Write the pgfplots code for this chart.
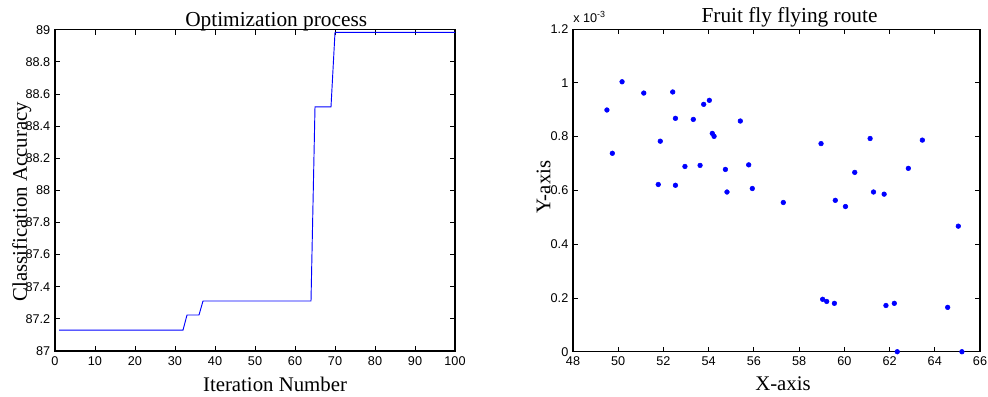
\documentclass[border=0pt]{standalone}
\usepackage{pgfplots}
\pgfplotsset{compat=1.18}
\usepackage{fontspec}
\setmainfont{Liberation Serif}
\newfontfamily\arial{Liberation Sans}
\begin{document}
\begin{tikzpicture}
\useasboundingbox (0pt,0pt) rectangle (741pt,297pt);
\pgfplotsset{
  mystyle/.style={
    scale only axis,
    axis line style={black, line width=0.8pt},
    tick align=inside,
    major tick length=3.75pt,
    tick style={black, line width=0.6pt},
    /pgf/number format/assume math mode=true,
    tick label style={font=\arial\fontsize{9.5}{10}\selectfont},
    label style={font=\fontsize{15.6}{16}\selectfont},
    title style={font=\fontsize{16}{17}\selectfont},
    xticklabel style={yshift=-0.5pt},
  }
}
\begin{axis}[mystyle,
  anchor=origin, at={(41.25pt,33.75pt)},
  width=300pt, height=241pt,
  xmin=0, xmax=100, ymin=87, ymax=89,
  xtick={0,10,...,100},
  ytick={87,87.2,87.4,87.6,87.8,88,88.2,88.4,88.6,88.8,89},
  yticklabels={87,87.2,87.4,87.6,87.8,88,88.2,88.4,88.6,88.8,89},
  title={Optimization process},
  title style={at={(axis description cs:0.553,1)}, anchor=base, yshift=-4pt},
  xlabel={Iteration Number},
  xlabel style={at={(axis description cs:0.55,0)}, anchor=base, yshift=-30.5pt},
  ylabel={Classification Accuracy},
  ylabel style={at={(axis description cs:-0.07,0.465)}, anchor=base},
]
\addplot[blue, line width=0.7pt] coordinates {
(1,87.13) (32,87.13) (33,87.224) (36,87.224) (37,87.311) (64,87.311)
(65,88.52) (69,88.52) (70,88.983) (100,88.983)
};
\end{axis}
\begin{axis}[mystyle,
  anchor=origin, at={(429.75pt,33.2pt)},
  width=305.25pt, height=242pt,
  xmin=48, xmax=66, ymin=0, ymax=1.2,
  xtick={48,50,...,66},
  ytick={0,0.2,0.4,0.6,0.8,1,1.2},
  yticklabels={0,0.2,0.4,0.6,0.8,1,1.2},
  title={Fruit fly flying route},
  title style={at={(axis description cs:0.532,1)}, anchor=base, yshift=-1pt},
  xlabel={X-axis},
  xlabel style={at={(axis description cs:0.516,0)}, anchor=base, yshift=-28.7pt},
  ylabel={Y-axis},
  ylabel style={at={(axis description cs:-0.0557,0.51)}, anchor=base},
  clip=false,
]
\addplot[only marks, mark=*, mark size=1.75pt, blue, mark options={draw=blue, fill=blue}] coordinates {
(49.50,0.899) (49.74,0.738) (50.17,1.004) (51.13,0.962) (51.77,0.622)
(51.86,0.783) (52.41,0.966) (52.53,0.868) (52.53,0.619) (52.95,0.689)
(53.32,0.864) (53.62,0.693) (53.78,0.920) (54.03,0.935) (54.16,0.812)
(54.24,0.801) (54.74,0.678) (54.81,0.594) (55.40,0.858) (55.77,0.695)
(55.93,0.607) (57.30,0.555) (58.97,0.774) (59.04,0.195) (59.22,0.187)
(59.56,0.180) (59.60,0.563) (60.05,0.540) (60.46,0.667) (61.14,0.793)
(61.29,0.594) (61.76,0.586) (61.84,0.172) (62.21,0.180) (62.34,0.0)
(62.83,0.682) (63.45,0.787) (64.57,0.165) (65.04,0.467) (65.20,0.0)
};
\node[anchor=base west, font=\arial\fontsize{9.5}{10}\selectfont, inner sep=0pt] at (rel axis cs:0,1) [yshift=5pt] {x 10\textsuperscript{-3}};
\end{axis}
\end{tikzpicture}
\end{document}
